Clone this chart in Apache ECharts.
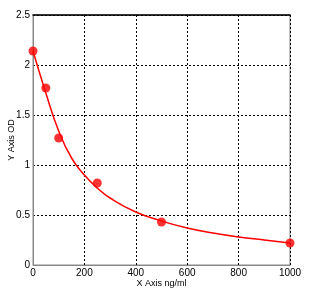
<!DOCTYPE html>
<html>
<head>
<meta charset="utf-8">
<script src="https://cdn.jsdelivr.net/npm/echarts@6/dist/echarts.min.js"></script>
<style>
  html, body { margin: 0; padding: 0; background: #fff; }
  #chart { width: 315px; height: 295px; }
</style>
</head>
<body>
<div id="chart"></div>
<script>
// standard points (concentration, OD)
const stdX = [0, 50, 100, 250, 500, 1000]
const stdY = [2.14, 1.77, 1.27, 0.82, 0.43, 0.22]

// fitted curve
const fitX = [0, 50, 100, 150, 200, 250, 300, 400, 500, 600, 700, 800, 900, 1000]
const fitY = [2.14, 1.72, 1.34, 1.07, 0.90, 0.77, 0.67, 0.53, 0.44, 0.37, 0.32, 0.28, 0.25, 0.22]

const xTitle = 'X Axis ng/ml'
const yTitle = 'Y Axis OD'

const chart = echarts.init(document.getElementById('chart'))

const gridLine = { lineStyle: { color: '#000', type: [2, 2], width: 1 } }
const grayLine = { lineStyle: { color: '#888', width: 1 } }
const labelStyle = { color: '#000', fontSize: 10, fontFamily: 'Liberation Sans' }

chart.setOption({
  animation: false,
  grid: {
    left: 33, right: 25, top: 15, bottom: 30,
    outerBoundsMode: 'none', containLabel: false,
    show: true, borderColor: '#888', borderWidth: 1,
  },
  xAxis: [
    {
      type: 'value',
      min: 0,
      max: 1000,
      interval: 200,
      name: xTitle,
      nameLocation: 'middle',
      nameGap: 14,
      nameMoveOverlap: false,
      nameTextStyle: { ...labelStyle, fontSize: 9 },
      axisLine: grayLine,
      axisTick: { show: false },
      axisLabel: { ...labelStyle, margin: 3, formatter: v => String(v) },
      splitLine: gridLine,
    },
    {
      type: 'value',
      position: 'top',
      min: 0,
      max: 1000,
      axisLine: { show: true, lineStyle: { color: '#000', width: 1.5 } },
      axisTick: { show: false },
      axisLabel: { show: false },
      splitLine: { show: false },
    },
  ],
  yAxis: {
    type: 'value',
    min: 0,
    max: 2.5,
    interval: 0.5,
    name: yTitle,
    nameLocation: 'middle',
    nameGap: 17,
    nameMoveOverlap: false,
    nameTextStyle: { ...labelStyle, fontSize: 9 },
    axisLine: { show: true, ...grayLine },
    axisTick: { show: false },
    axisLabel: { ...labelStyle, margin: 3 },
    splitLine: gridLine,
  },
  series: [
    {
      type: 'line',
      data: fitX.map((x, i) => [x, fitY[i]]),
      smooth: true,
      showSymbol: false,
      lineStyle: { color: '#ff0000', width: 1.5 },
      z: 2,
    },
    {
      type: 'scatter',
      data: stdX.map((x, i) => [x, stdY[i]]),
      symbolSize: 9,
      itemStyle: { color: '#ff0000' },
      z: 3,
    },
  ],
})
</script>
</body>
</html>
